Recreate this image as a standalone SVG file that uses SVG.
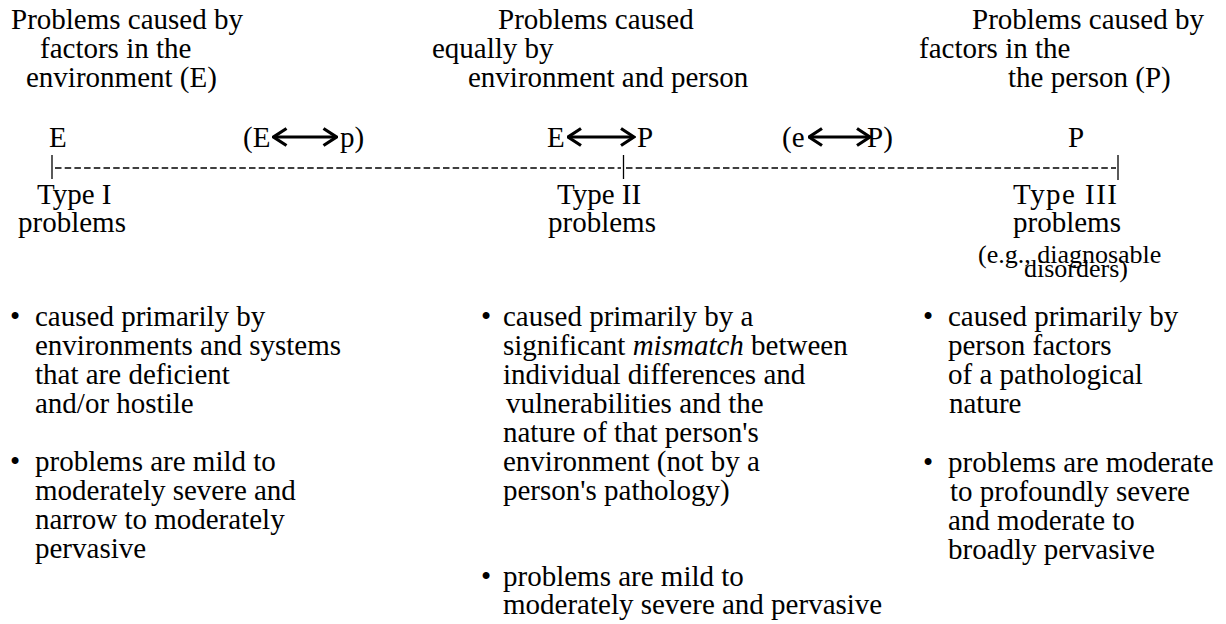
<svg xmlns="http://www.w3.org/2000/svg" width="1226" height="624" viewBox="0 0 1226 624">
<style>
text{font-family:"Liberation Serif","Times New Roman",serif;font-size:29px;fill:#000}
.sm{font-size:26px}
.it{font-style:italic}
.dash{stroke:#000;stroke-width:1.3;stroke-dasharray:6.5 3.2;fill:none}
.bar{stroke:#000;stroke-width:1.3}
.arr{stroke:#000;stroke-width:3;fill:none}
</style>
<defs>
<marker id="chev" viewBox="0 0 16 20" refX="14" refY="10" markerWidth="16" markerHeight="20" markerUnits="userSpaceOnUse" orient="auto-start-reverse">
<path d="M1.5,1.5 L14.5,10 L1.5,18.5" fill="none" stroke="#000" stroke-width="3.2"/>
</marker>
</defs>
<rect width="1226" height="624" fill="#fff"/>

<g id="header-E">
<text x="11" y="29">Problems caused by</text>
<text x="40" y="58">factors in the</text>
<text x="26" y="87">environment (E)</text>
</g>
<g id="header-EP">
<text x="498" y="29">Problems caused</text>
<text x="432" y="58">equally by</text>
<text x="468" y="87">environment and person</text>
</g>
<g id="header-P">
<text x="972" y="29">Problems caused by</text>
<text x="919" y="58">factors in the</text>
<text x="1008" y="87">the person (P)</text>
</g>

<g id="label-E"><text x="49" y="147">E</text></g>
<g id="label-Ep"><text x="243" y="147">(E</text><text x="340" y="147">p)</text></g>
<g id="label-EP"><text x="547" y="147">E</text><text x="637" y="147">P</text></g>
<g id="label-eP"><text x="782" y="147">(e</text><text x="867" y="147">P)</text></g>
<g id="label-P"><text x="1068" y="147">P</text></g>

<g id="connectors">
<line class="arr" x1="274" y1="137" x2="336" y2="137" marker-start="url(#chev)" marker-end="url(#chev)"/>
<line class="arr" x1="568.5" y1="137" x2="633.5" y2="137" marker-start="url(#chev)" marker-end="url(#chev)"/>
<line class="arr" x1="809.5" y1="137" x2="869.5" y2="137" marker-start="url(#chev)" marker-end="url(#chev)"/>
<line class="bar" x1="52" y1="155" x2="52" y2="179"/>
<line class="dash" x1="55" y1="168" x2="621" y2="168"/>
<line class="bar" x1="623.5" y1="155" x2="623.5" y2="179"/>
<line class="dash" x1="626" y1="168" x2="1116" y2="168"/>
<line class="bar" x1="1118" y1="155" x2="1118" y2="180"/>
</g>

<g id="type1">
<text x="37" y="204">Type I</text>
<text x="18" y="232">problems</text>
</g>
<g id="type2">
<text x="557" y="204">Type II</text>
<text x="548" y="232">problems</text>
</g>
<g id="type3">
<text x="1013" y="204" textLength="104" lengthAdjust="spacing">Type III</text>
<text x="1013" y="232">problems</text>
<text class="sm" x="978" y="263">(e.g., diagnosable</text>
<text class="sm" x="1024" y="277">disorders)</text>
</g>

<g id="col1">
<text x="10" y="326">•</text>
<text x="35" y="326">caused primarily by</text>
<text x="35" y="355">environments and systems</text>
<text x="35" y="384">that are deficient</text>
<text x="35" y="413">and/or hostile</text>
<text x="10" y="471">•</text>
<text x="35" y="471">problems are mild to</text>
<text x="35" y="500">moderately severe and</text>
<text x="35" y="529">narrow to moderately</text>
<text x="35" y="558">pervasive</text>
</g>

<g id="col2">
<text x="481" y="326">•</text>
<text x="503" y="326">caused primarily by a</text>
<text x="503" y="355">significant <tspan class="it">mismatch</tspan> between</text>
<text x="503" y="384">individual differences and</text>
<text x="506" y="413">vulnerabilities and the</text>
<text x="503" y="442">nature of that person's</text>
<text x="503" y="471">environment (not by a</text>
<text x="503" y="500">person's pathology)</text>
<text x="481" y="586">•</text>
<text x="503" y="586">problems are mild to</text>
<text x="503" y="614">moderately severe and pervasive</text>
</g>

<g id="col3">
<text x="923" y="326">•</text>
<text x="948" y="326">caused primarily by</text>
<text x="948" y="355">person factors</text>
<text x="948" y="384">of a pathological</text>
<text x="949" y="413">nature</text>
<text x="923" y="472">•</text>
<text x="948" y="472">problems are moderate</text>
<text x="950" y="501">to profoundly severe</text>
<text x="948" y="530">and moderate to</text>
<text x="948" y="559">broadly pervasive</text>
</g>
</svg>
